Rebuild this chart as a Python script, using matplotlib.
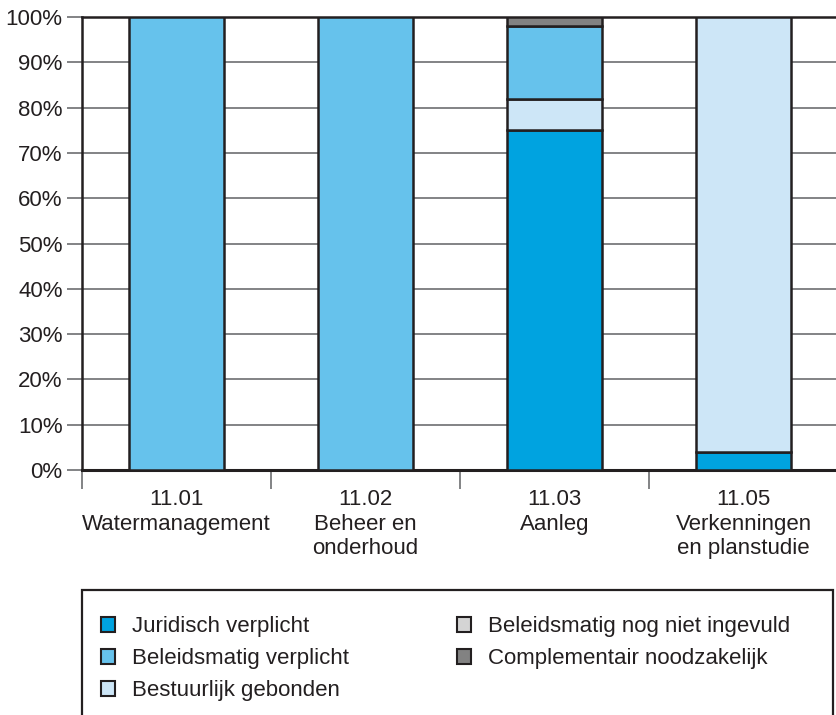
import matplotlib
matplotlib.use("Agg")
import matplotlib.pyplot as plt
from matplotlib.patches import Patch, Rectangle
import numpy as np

plt.rcParams['font.family'] = ['Liberation Sans', 'DejaVu Sans']

categories = ["11.01\nWatermanagement", "11.02\nBeheer en\nonderhoud", "11.03\nAanleg",
              "11.05\nVerkenningen\nen planstudie"]
series_names = ["Juridisch verplicht", "Beleidsmatig verplicht", "Bestuurlijk gebonden",
                "Beleidsmatig nog niet ingevuld", "Complementair noodzakelijk"]
juridisch = [0, 0, 75, 4]
beleidsmatig = [100, 100, 16, 0]
bestuurlijk = [0, 0, 7, 96]
nog_niet = [0, 0, 0, 0]
complementair = [0, 0, 2, 0]
y_ticks = [0, 10, 20, 30, 40, 50, 60, 70, 80, 90, 100]
y_tick_labels = [f"{v}%" for v in y_ticks]

colors = ["#00a3e0", "#66c2ec", "#cde6f7", "#d4d4d4", "#828282"]
stack = [(juridisch, colors[0]), (bestuurlijk, colors[2]), (beleidsmatig, colors[1]),
         (nog_niet, colors[3]), (complementair, colors[4])]

FS = 16
W, H = 836, 715
fig = plt.figure(figsize=(W / 100, H / 100), dpi=100)
ax = fig.add_axes([82 / W, (H - 470) / H, 756 / W, 453 / H])

x = np.arange(len(categories))
bottom = np.zeros(len(categories))
for vals, c in stack:
    v = np.array(vals, dtype=float)
    mask = v > 0
    ax.bar(x[mask], v[mask], bottom=bottom[mask], width=0.5, color=c,
           edgecolor="#231f20", linewidth=1.8, zorder=3)
    bottom += v

ax.set_xlim(-0.5, 3.5)
ax.set_ylim(0, 100)
ax.set_yticks(y_ticks)
ax.set_yticklabels(y_tick_labels, fontsize=FS, color="#231f20")
ax.yaxis.grid(True, color="#6d6e71", linewidth=1.2, zorder=0)
ax.set_axisbelow(True)
ax.tick_params(axis="y", length=11, width=1.2, color="#6d6e71", pad=3)

ax.set_xticks(x)
ax.set_xticklabels(categories, fontsize=FS, color="#231f20", linespacing=1.24, va="top")
ax.set_xticks([-0.5, 0.5, 1.5, 2.5], minor=True)
ax.tick_params(axis="x", which="major", length=0, pad=13.5)
ax.tick_params(axis="x", which="minor", length=14, width=1.2, color="#6d6e71")

ax.spines["right"].set_visible(False)
ax.spines["left"].set_linewidth(1.8)
ax.spines["left"].set_color("#231f20")
ax.spines["top"].set_linewidth(1.8)
ax.spines["top"].set_color("#231f20")
ax.spines["bottom"].set_linewidth(2.2)
ax.spines["bottom"].set_color("#231f20")

# legend box
fig.patches.append(Rectangle((82 / W, -0.01), 751 / W, (H - 590) / H + 0.01,
                             transform=fig.transFigure, facecolor="white",
                             edgecolor="#231f20", linewidth=1.6, zorder=0))
handles = [Patch(facecolor=c, edgecolor="#231f20", linewidth=1.5) for c in colors]
fig.legend(handles, series_names, ncol=2, loc="upper left",
           bbox_to_anchor=(101 / W, (H - 616) / H), frameon=False,
           fontsize=FS, handlelength=0.65, handleheight=0.65, handletextpad=0.75,
           columnspacing=4.85, labelspacing=0.5, borderaxespad=0, borderpad=0,
           labelcolor="#231f20")

fig.savefig("out.png", dpi=100)
